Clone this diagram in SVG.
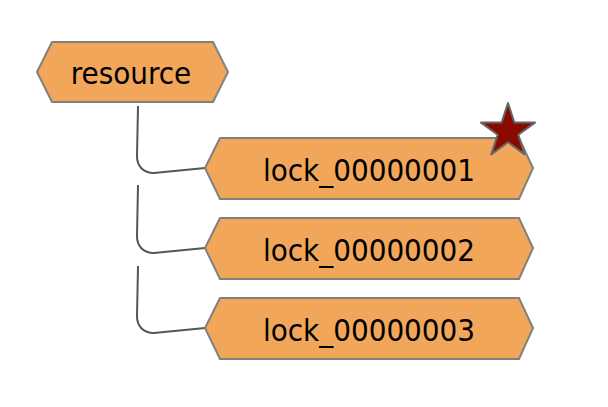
<svg xmlns="http://www.w3.org/2000/svg" width="608" height="407" viewBox="0 0 608 407">
<style>
.node{fill:#f2a65a;stroke:#808080;stroke-width:2}
.lbl{font-family:"DejaVu Sans Condensed","DejaVu Sans",sans-serif;font-size:31px;fill:#000;text-anchor:middle}
.conn{fill:none;stroke:#555;stroke-width:2}
</style>
<rect width="608" height="407" fill="#fff"/>
<g id="connectors">
<path class="conn" d="M138,106 L137,156 C137,166 143,173 154,173 L205,168"/>
<path class="conn" d="M138,185 L137,236 C137,246 143,253 154,253 L205,248"/>
<path class="conn" d="M138,266 L137,316 C137,326 143,333 154,333 L205,328"/>
</g>
<g id="resource">
<polygon class="node" points="37,72 52,42 213,42 228,72 213,102 52,102"/>
<text class="lbl" x="131" y="84">resource</text>
</g>
<g id="lock_00000001">
<polygon class="node" points="205,168 220,138 519,138 533,168 519,199 220,199"/>
<text class="lbl" x="369" y="181">lock_00000001</text>
</g>
<g id="lock_00000002">
<polygon class="node" points="205,248 220,218 519,218 533,248 519,279 220,279"/>
<text class="lbl" x="369" y="261">lock_00000002</text>
</g>
<g id="lock_00000003">
<polygon class="node" points="205,328 220,298 519,298 533,328 519,359 220,359"/>
<text class="lbl" x="369" y="341">lock_00000003</text>
</g>
<g id="star">
<polygon fill="#8b0a00" stroke="#666" stroke-width="2" stroke-linejoin="round" points="508,103 514.4,122.6 535,122.6 518.3,134.8 524.7,154.4 508,142.3 491.3,154.4 497.7,134.8 481,122.6 501.6,122.6"/>
</g>
</svg>
